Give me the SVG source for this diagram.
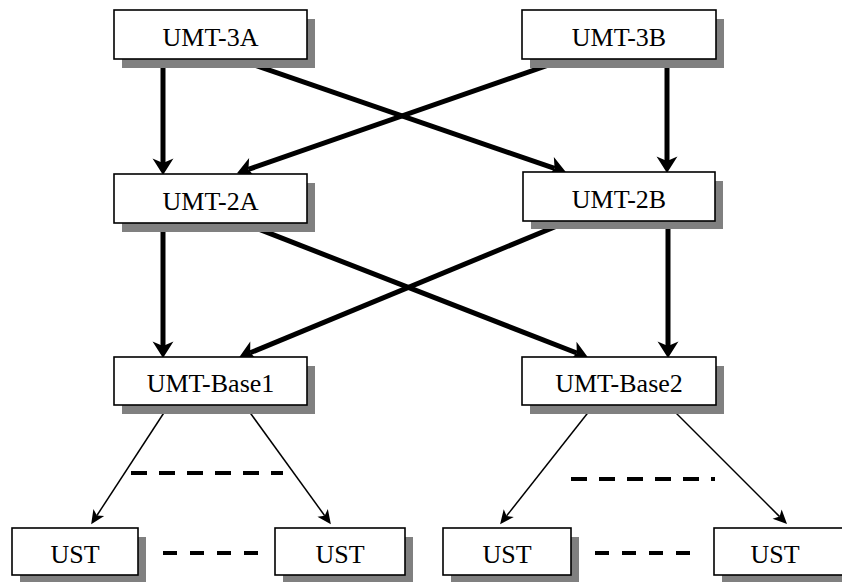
<svg xmlns="http://www.w3.org/2000/svg" width="842" height="582" viewBox="0 0 842 582">
<style>
.box{fill:#fff;stroke:#000;stroke-width:1.6}
.sh{fill:#808080}
.lbl{font-family:"Liberation Serif","Times New Roman",serif;font-size:26px;fill:#000;text-anchor:middle}
.thick{stroke:#000;stroke-width:5;fill:none;marker-end:url(#ah)}
.thin{stroke:#000;stroke-width:1.5;fill:none;marker-end:url(#ahs)}
.dash{stroke:#000;stroke-width:4;fill:none}
</style>
<defs>
<marker id="ah" markerUnits="userSpaceOnUse" markerWidth="20" markerHeight="22" viewBox="0 -10 16 20" refX="4" refY="0" orient="auto">
<path d="M0,-9.5 L15,0 L0,9.5 L4,0 Z" fill="#000"/>
</marker>
<marker id="ahs" markerUnits="userSpaceOnUse" markerWidth="16" markerHeight="14" viewBox="0 -6 13 12" refX="3" refY="0" orient="auto">
<path d="M0,-5.5 L12,0 L0,5.5 L3,0 Z" fill="#000"/>
</marker>
</defs>
<g id="connectors">
<line class="thick" x1="163" y1="59" x2="163" y2="163"/>
<line class="thick" x1="667" y1="59" x2="667" y2="161"/>
<line class="thick" x1="237" y1="59" x2="554.6" y2="168.4"/>
<line class="thick" x1="566" y1="59" x2="248.4" y2="169.4"/>
<line class="thick" x1="163" y1="223" x2="163" y2="346"/>
<line class="thick" x1="668" y1="221" x2="668" y2="346"/>
<line class="thick" x1="243" y1="223" x2="576.8" y2="353"/>
<line class="thick" x1="569" y1="221" x2="250.2" y2="352.8"/>
<line class="thin" x1="169" y1="405" x2="96.9" y2="515.5"/>
<line class="thin" x1="244.5" y1="405" x2="324.7" y2="515.7"/>
<line class="thin" x1="594" y1="405" x2="506.6" y2="515.9"/>
<line class="thin" x1="668" y1="405" x2="779.6" y2="516.6"/>
<line class="dash" x1="131" y1="473" x2="283" y2="473" stroke-dasharray="16 12"/>
<line class="dash" x1="571" y1="479" x2="715" y2="479" stroke-dasharray="16 12"/>
<line class="dash" x1="163" y1="553" x2="258" y2="553" stroke-dasharray="14 13"/>
<line class="dash" x1="595" y1="553" x2="690" y2="553" stroke-dasharray="14 13"/>
</g>
<g id="umt3a"><rect class="sh" x="122" y="19" width="193" height="49"/><rect class="box" x="114" y="10" width="193" height="49"/><text class="lbl" x="210.5" y="45.5">UMT-3A</text></g>
<g id="umt3b"><rect class="sh" x="530" y="19" width="194" height="49"/><rect class="box" x="522" y="10" width="194" height="49"/><text class="lbl" x="619" y="45.5">UMT-3B</text></g>
<g id="umt2a"><rect class="sh" x="122" y="183" width="193" height="49"/><rect class="box" x="114" y="174" width="193" height="49"/><text class="lbl" x="210.5" y="209.5">UMT-2A</text></g>
<g id="umt2b"><rect class="sh" x="531" y="181" width="192" height="48"/><rect class="box" x="523" y="172" width="192" height="49"/><text class="lbl" x="619" y="207.5">UMT-2B</text></g>
<g id="umtbase1"><rect class="sh" x="122" y="366" width="193" height="48"/><rect class="box" x="114" y="357" width="193" height="48"/><text class="lbl" x="210.5" y="392">UMT-Base1</text></g>
<g id="umtbase2"><rect class="sh" x="530" y="366" width="194" height="48"/><rect class="box" x="522" y="357" width="194" height="48"/><text class="lbl" x="619" y="392">UMT-Base2</text></g>
<g id="ust1"><rect class="sh" x="20" y="537" width="126" height="47"/><rect class="box" x="12" y="528" width="126" height="47"/><text class="lbl" x="75" y="563">UST</text></g>
<g id="ust2"><rect class="sh" x="283" y="537" width="130" height="47"/><rect class="box" x="275" y="528" width="130" height="47"/><text class="lbl" x="340" y="563">UST</text></g>
<g id="ust3"><rect class="sh" x="451" y="537" width="128" height="47"/><rect class="box" x="443" y="528" width="128" height="47"/><text class="lbl" x="507" y="563">UST</text></g>
<g id="ust4"><rect class="sh" x="722" y="537" width="130" height="47"/><rect class="box" x="714" y="528" width="130" height="47"/><text class="lbl" x="775" y="563">UST</text></g>
</svg>
